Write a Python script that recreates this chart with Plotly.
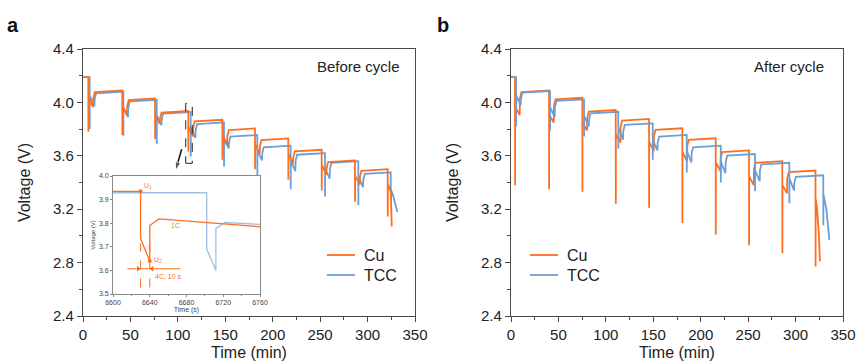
import plotly.graph_objects as go

W, H = 857, 363
ORANGE = "#FF6E1F"
BLUE = "#6C9ED8"
LBLUE = "#9CBFE6"
FONT = "Liberation Sans, Arial, sans-serif"

# ---------------- Panel a (before cycle) ----------------
A_CU_STEP = [5.6, 41.4, 75.9, 111.0, 146.9, 181.3, 216.4, 251.6, 286.7, 321.2]
A_CU_REST = [4.19, 4.09, 4.03, 3.935, 3.87, 3.805, 3.73, 3.645, 3.565, 3.50]
A_CU_PULSE = [3.78, 3.755, 3.725, 3.63, 3.57, 3.50, 3.42, 3.34, 3.255, 3.145]
A_CU_1C_START = [4.04, 3.97, 3.91, 3.82, 3.755, 3.69, 3.615, 3.53, 3.45, 3.39]
A_CU_1C_END = [3.965, 3.905, 3.84, 3.745, 3.68, 3.615, 3.54, 3.46, 3.385]
A_CU_JUMP = [4.03, 3.97, 3.875, 3.81, 3.745, 3.67, 3.585, 3.505, 3.44]
A_CU_KNEE = [4.078, 4.018, 3.923, 3.858, 3.793, 3.718, 3.633, 3.553, 3.488]
A_CU_TAIL_T = [324.5, 325.5]
A_CU_TAIL_V = [3.33, 3.07]

A_TCC_STEP = [7.0, 42.5, 77.7, 113.5, 148.6, 183.7, 218.9, 255.1, 290.2, 324.4]
A_TCC_REST = [4.19, 4.08, 4.02, 3.928, 3.85, 3.756, 3.676, 3.62, 3.56, 3.476]
A_TCC_PULSE = [3.80, 3.75, 3.69, 3.595, 3.52, 3.43, 3.35, 3.295, 3.23, 3.27]
A_TCC_1C_START = [4.05, 3.96, 3.90, 3.81, 3.73, 3.64, 3.56, 3.50, 3.44, 3.35]
A_TCC_1C_END = [3.97, 3.89, 3.83, 3.735, 3.655, 3.565, 3.485, 3.43, 3.365]
A_TCC_JUMP = [4.02, 3.96, 3.868, 3.79, 3.696, 3.616, 3.56, 3.50, 3.416]
A_TCC_KNEE = [4.068, 4.008, 3.916, 3.838, 3.744, 3.664, 3.608, 3.548, 3.464]
A_TCC_TAIL_T = [327.0, 331.4]
A_TCC_TAIL_V = [3.30, 3.18]

# ---------------- Panel b (after cycle) ----------------
B_CU_STEP = [4.2, 40.1, 75.2, 110.4, 145.5, 180.6, 215.8, 250.9, 286.0, 321.0]
B_CU_REST = [4.19, 4.09, 4.035, 3.943, 3.876, 3.806, 3.731, 3.64, 3.56, 3.49]
B_CU_PULSE = [3.38, 3.35, 3.33, 3.24, 3.21, 3.095, 3.01, 2.93, 2.87, 2.77]
B_CU_1C_START = [3.97, 3.905, 3.85, 3.76, 3.705, 3.63, 3.55, 3.445, 3.38, 3.28]
B_CU_1C_END = [3.905, 3.85, 3.79, 3.70, 3.635, 3.56, 3.485, 3.38, 3.32]
B_CU_JUMP = [4.03, 3.975, 3.883, 3.816, 3.746, 3.671, 3.58, 3.50, 3.43]
B_CU_KNEE = [4.078, 4.023, 3.931, 3.864, 3.794, 3.719, 3.628, 3.548, 3.478]
B_CU_TAIL_T = [322.5, 324.5, 325.7]
B_CU_TAIL_V = [3.22, 3.02, 2.81]

B_TCC_STEP = [5.3, 41.1, 77.0, 113.1, 149.4, 185.2, 221.1, 257.2, 293.4, 329.2]
B_TCC_REST = [4.19, 4.085, 4.023, 3.93, 3.843, 3.756, 3.676, 3.613, 3.548, 3.454]
B_TCC_PULSE = [3.82, 3.79, 3.745, 3.655, 3.57, 3.475, 3.40, 3.335, 3.245, 3.08]
B_TCC_1C_START = [4.05, 3.965, 3.90, 3.81, 3.72, 3.635, 3.555, 3.49, 3.43, 3.31]
B_TCC_1C_END = [3.98, 3.89, 3.82, 3.72, 3.64, 3.55, 3.47, 3.41, 3.34]
B_TCC_JUMP = [4.025, 3.963, 3.87, 3.783, 3.696, 3.616, 3.553, 3.488, 3.394]
B_TCC_KNEE = [4.073, 4.011, 3.918, 3.831, 3.744, 3.664, 3.601, 3.536, 3.442]
B_TCC_TAIL_T = [332.5, 335.6]
B_TCC_TAIL_V = [3.20, 2.97]

# ---------------- Inset (zoom of panel a around 6630 s) ----------------
INSET_CU_T = [6600, 6630, 6630, 6640, 6640, 6650, 6760]
INSET_CU_V = [3.935, 3.935, 3.735, 3.64, 3.79, 3.818, 3.785]
INSET_TCC_T = [6600, 6702, 6702, 6712, 6712, 6722, 6760]
INSET_TCC_V = [3.929, 3.929, 3.69, 3.60, 3.778, 3.803, 3.795]

LEGEND_NAMES = ["Cu", "TCC"]
LEGEND_COLORS = [ORANGE, BLUE]

PULSE_DUR = 10 / 60.0   # 4C pulse, 10 s
C1_DUR = 5.0            # 1C discharge, min


def build(step, rest, pulse, c1s, c1e, jump, knee, tail_t, tail_v):
    xs, ys = [0.0], [rest[0]]
    n = len(step)
    for k in range(n):
        t0 = step[k]
        xs += [t0, t0 + 0.1, t0 + PULSE_DUR]
        ys += [rest[k], pulse[k], c1s[k]]
        if k < n - 1:
            xs += [t0 + C1_DUR, t0 + C1_DUR + 0.2, t0 + C1_DUR + 1.8]
            ys += [c1e[k], jump[k], knee[k]]
            xs.append(step[k + 1])
            ys.append(rest[k + 1])
        else:
            xs += list(tail_t)
            ys += list(tail_v)
    return xs, ys


fig = go.Figure()

ax, ay = build(A_TCC_STEP, A_TCC_REST, A_TCC_PULSE, A_TCC_1C_START, A_TCC_1C_END,
               A_TCC_JUMP, A_TCC_KNEE, A_TCC_TAIL_T, A_TCC_TAIL_V)
fig.add_trace(go.Scatter(x=ax, y=ay, mode="lines", line=dict(color=BLUE, width=1.8),
                         name="TCC", xaxis="x", yaxis="y", showlegend=False))
ax, ay = build(A_CU_STEP, A_CU_REST, A_CU_PULSE, A_CU_1C_START, A_CU_1C_END,
               A_CU_JUMP, A_CU_KNEE, A_CU_TAIL_T, A_CU_TAIL_V)
fig.add_trace(go.Scatter(x=ax, y=ay, mode="lines", line=dict(color=ORANGE, width=1.8),
                         name="Cu", xaxis="x", yaxis="y", showlegend=False))

bx, by = build(B_CU_STEP, B_CU_REST, B_CU_PULSE, B_CU_1C_START, B_CU_1C_END,
               B_CU_JUMP, B_CU_KNEE, B_CU_TAIL_T, B_CU_TAIL_V)
fig.add_trace(go.Scatter(x=bx, y=by, mode="lines", line=dict(color=ORANGE, width=1.8),
                         name="Cu", xaxis="x2", yaxis="y2", showlegend=False))
bx, by = build(B_TCC_STEP, B_TCC_REST, B_TCC_PULSE, B_TCC_1C_START, B_TCC_1C_END,
               B_TCC_JUMP, B_TCC_KNEE, B_TCC_TAIL_T, B_TCC_TAIL_V)
fig.add_trace(go.Scatter(x=bx, y=by, mode="lines", line=dict(color=BLUE, width=1.8),
                         name="TCC", xaxis="x2", yaxis="y2", showlegend=False))

# inset traces
fig.add_trace(go.Scatter(x=INSET_TCC_T, y=INSET_TCC_V, mode="lines",
                         line=dict(color=LBLUE, width=1.3), showlegend=False,
                         xaxis="x3", yaxis="y3"))
fig.add_trace(go.Scatter(x=INSET_CU_T, y=INSET_CU_V, mode="lines",
                         line=dict(color=ORANGE, width=1.3), showlegend=False,
                         xaxis="x3", yaxis="y3"))
fig.add_trace(go.Scatter(x=[INSET_CU_T[1], INSET_CU_T[3]], y=[INSET_CU_V[1], INSET_CU_V[3]],
                         mode="markers", marker=dict(color=ORANGE, size=4),
                         showlegend=False, xaxis="x3", yaxis="y3"))
# inset pulse-width marker arrowheads
fig.add_trace(go.Scatter(x=[6627.5, 6642.5], y=[3.607, 3.607], mode="markers",
                         marker=dict(color=ORANGE, size=5,
                                     symbol=["triangle-right", "triangle-left"]),
                         showlegend=False, xaxis="x3", yaxis="y3"))

# arrow from dashed box to inset (panel a)
fig.add_trace(go.Scatter(x=[104.0, 97.6], y=[3.649, 3.49], mode="lines+markers",
                         line=dict(color="#111", width=1.5),
                         marker=dict(symbol="arrow", size=[0, 9], angleref="previous",
                                     color="#111"),
                         showlegend=False, xaxis="x", yaxis="y"))

# ---------------- layout ----------------
def px_x(p):
    return p / W


def px_y(p):
    return 1 - p / H


AXCOL = "#4a4a4a"
tickfont = dict(family=FONT, size=15, color="#222")
titlefont = dict(family=FONT, size=16, color="#222")

main_x = dict(range=[0, 350], dtick=50, tick0=0, ticks="outside", ticklen=5, tickwidth=1,
              tickcolor=AXCOL, showline=True, linecolor=AXCOL, linewidth=1.2, mirror=True,
              showgrid=False, zeroline=False, tickfont=tickfont, automargin=False,
              minor=dict(dtick=25, ticks="outside", ticklen=3, tickcolor=AXCOL, showgrid=False),
              title=dict(text="Time (min)", font=titlefont, standoff=4))
main_y = dict(range=[2.4, 4.4], dtick=0.4, tick0=2.4, ticks="outside", ticklen=5, tickwidth=1,
              tickcolor=AXCOL, showline=True, linecolor=AXCOL, linewidth=1.2, mirror=True,
              showgrid=False, zeroline=False, tickfont=tickfont, tickformat=".1f",
              automargin=False,
              minor=dict(dtick=0.2, ticks="outside", ticklen=3, tickcolor=AXCOL, showgrid=False),
              title=dict(text="Voltage (V)", font=titlefont, standoff=18))

ydom = [px_y(316), px_y(49)]
inset_tick = dict(family=FONT, size=7, color="#444")

fig.update_layout(
    width=W, height=H,
    margin=dict(l=0, r=0, t=0, b=0, pad=0),
    paper_bgcolor="white", plot_bgcolor="white",
    font=dict(family=FONT),
    showlegend=False,
    xaxis=dict(domain=[px_x(83), px_x(415)], anchor="y", **main_x),
    yaxis=dict(domain=ydom, anchor="x", **main_y),
    xaxis2=dict(domain=[px_x(511), px_x(843)], anchor="y2", **main_x),
    yaxis2=dict(domain=ydom, anchor="x2", **main_y),
    xaxis3=dict(domain=[px_x(113), px_x(260)], anchor="y3", range=[6600, 6760],
                dtick=40, tick0=6600, ticks="outside", ticklen=2, tickcolor="#888",
                showline=True, linecolor="#8a8a8a", linewidth=0.8, mirror=True,
                showgrid=False, zeroline=False, tickfont=inset_tick, automargin=False,
                minor=dict(dtick=20, ticks="outside", ticklen=1.5, tickcolor="#888"),
                title=dict(text="Time (s)", font=dict(family=FONT, size=7, color="#444"),
                           standoff=0)),
    yaxis3=dict(domain=[px_y(294), px_y(176)], anchor="x3", range=[3.5, 4.0],
                dtick=0.1, tick0=3.5, ticks="outside", ticklen=2, tickcolor="#888",
                showline=True, linecolor="#8a8a8a", linewidth=0.8, mirror=True,
                showgrid=False, zeroline=False, tickfont=inset_tick, tickformat=".1f",
                automargin=False,
                title=dict(text="Voltage (V)", font=dict(family=FONT, size=6, color="#444"),
                           standoff=2)),
)

# dashed box marking inset region
fig.add_shape(type="rect", xref="x", yref="y", x0=108.3, x1=115.2, y0=3.544, y1=3.993,
              line=dict(color="#222", width=1, dash="dash"))

# inset annotations
fig.add_shape(type="line", xref="x3", yref="y3", x0=6630, x1=6630, y0=3.528, y1=3.715,
              line=dict(color=ORANGE, width=1, dash="dash"))
fig.add_shape(type="line", xref="x3", yref="y3", x0=6640, x1=6640, y0=3.528, y1=3.715,
              line=dict(color=ORANGE, width=1, dash="dash"))
fig.add_shape(type="line", xref="x3", yref="y3", x0=6615.5, x1=6673.4, y0=3.607, y1=3.607,
              line=dict(color=ORANGE, width=1))
inset_txt = dict(family=FONT, size=7, color=ORANGE)
fig.add_annotation(xref="x3", yref="y3", x=6632, y=3.958, text="U<sub>1</sub>",
                   showarrow=False, xanchor="left", font=inset_txt)
fig.add_annotation(xref="x3", yref="y3", x=6642, y=3.646, text="U<sub>2</sub>",
                   showarrow=False, xanchor="left", font=inset_txt)
fig.add_annotation(xref="x3", yref="y3", x=6667.5, y=3.79, text="1C",
                   showarrow=False, font=inset_txt)
fig.add_annotation(xref="x3", yref="y3", x=6643, y=3.575, text="4C, 10 s",
                   showarrow=False, xanchor="left", font=inset_txt)

# manual legends (one per panel)
for (lx0, lx1, tx) in [(327, 355, 362), (530, 558, 565)]:
    for i, (name, col) in enumerate(zip(LEGEND_NAMES, LEGEND_COLORS)):
        yy = 255 + 20 * i
        fig.add_shape(type="line", xref="paper", yref="paper",
                      x0=px_x(lx0), x1=px_x(lx1), y0=px_y(yy), y1=px_y(yy),
                      line=dict(color=col, width=1.8))
        fig.add_annotation(xref="paper", yref="paper", x=px_x(tx), y=px_y(yy), text=name,
                           showarrow=False, xanchor="left", yanchor="middle",
                           font=dict(family=FONT, size=16, color="#222"))

# panel texts
def label(xp, yp, text, size, color="#222"):
    fig.add_annotation(xref="paper", yref="paper", x=px_x(xp), y=px_y(yp), text=text,
                       showarrow=False, xanchor="center", yanchor="middle",
                       font=dict(family=FONT, size=size, color=color))


label(358, 67, "Before cycle", 15)
label(789, 67, "After cycle", 15)
label(13, 25, "<b>a</b>", 20, "#111")
label(443, 25, "<b>b</b>", 20, "#111")

fig.write_html("out.html")
